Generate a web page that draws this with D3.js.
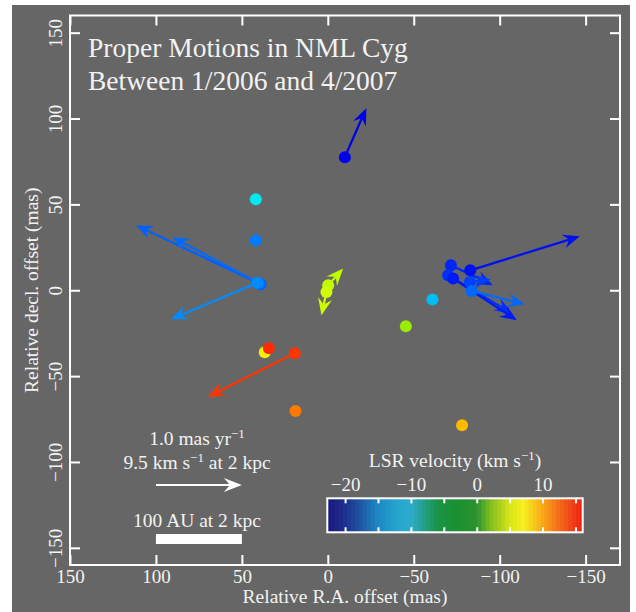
<!DOCTYPE html>
<html>
<head>
<meta charset="utf-8">
<script src="https://cdn.jsdelivr.net/npm/d3@7"></script>
<style>
  html, body { margin: 0; padding: 0; background: #ffffff; }
  svg { display: block; }
  text { font-family: "Liberation Serif", "DejaVu Serif", serif; fill: #f2f2f2; }
</style>
</head>
<body>
<svg id="chart" width="636" height="612"></svg>
<script>
// ---------------- data ----------------
// maser spots: RA offset (mas), Dec offset (mas), LSR velocity (km/s),
// proper motion in RA and Dec (mas/yr), null = no measured motion
const spotRA   = [-9.9, 41.9, 41.9, 39.1, 39.8, 41.0, -0.2, 0.8, 19.2, 36.7, 34.3, 18.8, -78.1, -45.4, -60.9, -82.9, -71.6, -70.0, -72.9, -82.6, -83.6];
const spotDec  = [77.5, 53.0, 29.1, 3.5, 3.9, 4.4, 2.9, -1.0, -36.7, -36.1, -33.8, -70.3, -78.6, -21.0, -5.4, 11.6, 14.6, 8.7, 6.8, 4.8, -0.4];
const spotVel  = [-22, -13, -17.8, -18.8, -18.4, -17.2, 0.3, 1.2, 14, 4, 14.5, 10.5, 7, -2, -15, -21.5, -20.8, -20.5, -21.2, -20, -18.5];
const spotPmRA = [-0.25, null, null, 1.45, 1.01, 1.006, -0.174, 0.058, 1.012, null, null, null, null, null, null, -1.274, -0.488, -0.74, -0.742, -0.244, -0.62];
const spotPmDec= [0.57, null, null, 0.688, 0.54, -0.426, 0.194, -0.272, -0.508, null, null, null, null, null, null, 0.396, -0.234, -0.442, -0.486, 0.032, -0.156];

// colour scale for spots (velocity -> colour)
const spotColV = [-22, -20, -17, -13, -8, -2, 1, 4, 8, 11, 15];
const spotColC = ["#0000ee", "#0040ff", "#0090ff", "#00e8f0", "#00ee80", "#99ee00", "#ccff00", "#f0f000", "#ffaa00", "#ff7000", "#ff2000"];

// colour bar palette
const barColV = [-22.7, -20.5, -18, -15, -12, -10, -8, -6, -3, 0, 2, 5, 7, 10, 13, 16.1];
const barColC = ["#18187e", "#1c2a88", "#1f50a0", "#1e88c4", "#26a6d0", "#2aaed0", "#22a08a", "#1a9448", "#1a9030", "#2a9430", "#80bc20", "#d8e418", "#f5f020", "#f8a818", "#f86018", "#f02010"];
const barTicks = [-20, -15, -10, -5, 0, 5, 10, 15];
const barLabels = [-20, -10, 0, 10];

const xTicks = [150, 100, 50, 0, -50, -100, -150];
const yTicks = [150, 100, 50, 0, -50, -100, -150];

const titleLines = ["Proper Motions in NML Cyg", "Between 1/2006 and 4/2007"];
const pmScale = 50; // mas of plot per 1 mas/yr

// ---------------- layout ----------------
const svg = d3.select("#chart");
const L = 70, R = 620, T = 15.5, B = 565;
const x = d3.scaleLinear().domain([150, -170]).range([L, R]);
const y = d3.scaleLinear().domain([-160, 160]).range([B, T]);
const col = d3.scaleLinear().domain(spotColV).range(spotColC).clamp(true);
const fmt = d3.format("");

svg.append("rect").attr("x", 12).attr("y", 5).attr("width", 618).attr("height", 607).attr("fill", "#666666");

// axes
const axStyle = g => {
  g.select(".domain").remove();
  g.selectAll(".tick line").attr("stroke", "#ffffff").attr("stroke-width", 2);
};
svg.append("g").attr("transform", `translate(0,${B})`)
  .call(d3.axisBottom(x).tickValues(xTicks).tickSize(-10).tickFormat(fmt).tickPadding(0))
  .call(axStyle)
  .call(g => g.selectAll(".tick text").attr("y", 18).attr("dy", 0)
      .style("font-size", "19px").attr("fill", "#f2f2f2"));
svg.append("g").attr("transform", `translate(0,${T})`)
  .call(d3.axisTop(x).tickValues(xTicks).tickSize(-10).tickFormat(""))
  .call(axStyle);
svg.append("g").attr("transform", `translate(${L},0)`)
  .call(d3.axisLeft(y).tickValues(yTicks).tickSize(-10).tickFormat(fmt))
  .call(axStyle)
  .call(g => g.selectAll(".tick text").attr("x", 0).attr("dy", 0)
      .attr("transform", "translate(-8,0) rotate(-90)")
      .attr("text-anchor", "middle")
      .style("font-size", "19px").attr("fill", "#f2f2f2"));
svg.append("g").attr("transform", `translate(${R},0)`)
  .call(d3.axisRight(y).tickValues(yTicks).tickSize(-10).tickFormat(""))
  .call(axStyle);
svg.append("rect").attr("x", L).attr("y", T).attr("width", R - L).attr("height", B - T)
  .attr("fill", "none").attr("stroke", "#ffffff").attr("stroke-width", 2);

// axis titles
svg.append("text").attr("x", (L + R) / 2).attr("y", 603).attr("text-anchor", "middle")
  .style("font-size", "19.5px").text("Relative R.A. offset (mas)");
svg.append("text").attr("transform", `translate(38,${(T + B) / 2}) rotate(-90)`).attr("text-anchor", "middle")
  .style("font-size", "19.5px").text("Relative decl. offset (mas)");

// title
svg.append("g").selectAll("text").data(titleLines).join("text")
  .attr("x", 88).attr("y", (d, i) => 57 + i * 32.5)
  .style("font-size", "27.5px").text(d => d);

// arrow helper
function arrow(g, x1, y1, x2, y2, color, hl, hw, hn, sw) {
  const dx = x2 - x1, dy = y2 - y1, len = Math.hypot(dx, dy);
  const ux = dx / len, uy = dy / len, px = -uy, py = ux;
  const nx = x2 - ux * hn, ny = y2 - uy * hn;
  g.append("line").attr("x1", x1).attr("y1", y1).attr("x2", nx).attr("y2", ny)
    .attr("stroke", color).attr("stroke-width", sw);
  const p = [[x2, y2], [x2 - ux * hl + px * hw, y2 - uy * hl + py * hw], [nx, ny], [x2 - ux * hl - px * hw, y2 - uy * hl - py * hw]];
  g.append("path").attr("d", "M" + p.map(q => q.join(",")).join("L") + "Z").attr("fill", color);
}

// spots and arrows
const spots = spotRA.map((ra, i) => ({ ra, dec: spotDec[i], v: spotVel[i], pr: spotPmRA[i], pd: spotPmDec[i] }));
const gArrows = svg.append("g");
spots.forEach(s => {
  if (s.pr !== null) {
    arrow(gArrows, x(s.ra), y(s.dec), x(s.ra + s.pr * pmScale), y(s.dec + s.pd * pmScale), col(s.v), 17, 7, 11, 2.2);
  }
});
svg.append("g").selectAll("circle").data(spots).join("circle")
  .attr("cx", d => x(d.ra)).attr("cy", d => y(d.dec)).attr("r", 6)
  .attr("fill", d => col(d.v));

// scale arrow and bar
const gScale = svg.append("g");
gScale.append("text").attr("x", 197).attr("y", 445).attr("text-anchor", "middle").style("font-size", "19.5px")
  .call(t => { t.append("tspan").text("1.0 mas yr"); t.append("tspan").attr("dy", -7).style("font-size", "13px").text("−1"); });
gScale.append("text").attr("x", 197).attr("y", 469).attr("text-anchor", "middle").style("font-size", "19.5px")
  .call(t => {
    t.append("tspan").text("9.5 km s");
    t.append("tspan").attr("dy", -7).style("font-size", "13px").text("−1");
    t.append("tspan").attr("dy", 7).text(" at 2 kpc");
  });
arrow(gScale, x(100), 485, x(100 - 1.0 * pmScale), 485, "#ffffff", 18, 7, 12, 2.2);
gScale.append("text").attr("x", 197).attr("y", 527).attr("text-anchor", "middle").style("font-size", "19.5px")
  .text("100 AU at 2 kpc");
gScale.append("rect").attr("x", x(100)).attr("y", 534).attr("width", x(50) - x(100)).attr("height", 10).attr("fill", "#ffffff");

// colour bar
const cb = d3.scaleLinear().domain([-22.7, 16.1]).range([327.3, 582.7]);
const cbCol = d3.scaleLinear().domain(barColV).range(barColC);
const cbT = 498.3, cbB = 532.3;
const steps = d3.range(-22.7, 16.1, 0.6);
svg.append("g").selectAll("rect").data(steps).join("rect")
  .attr("x", d => cb(d)).attr("y", cbT).attr("width", d => cb(Math.min(d + 0.6, 16.1)) - cb(d) + 0.5).attr("height", cbB - cbT)
  .attr("fill", d => cbCol(d + 0.3));
svg.append("g").attr("transform", `translate(0,${cbT})`)
  .call(d3.axisTop(cb).tickValues(barTicks).tickSize(-5).tickPadding(7)
    .tickFormat(d => barLabels.includes(d) ? fmt(d) : ""))
  .call(axStyle)
  .call(g => g.selectAll(".tick text").attr("dy", 0).style("font-size", "19px").attr("fill", "#f2f2f2"));
svg.append("g").attr("transform", `translate(0,${cbB})`)
  .call(d3.axisBottom(cb).tickValues(barTicks).tickSize(-5).tickFormat(""))
  .call(axStyle);
svg.append("rect").attr("x", 327.3).attr("y", cbT).attr("width", 582.7 - 327.3).attr("height", cbB - cbT)
  .attr("fill", "none").attr("stroke", "#ffffff").attr("stroke-width", 2);
svg.append("text").attr("x", 455).attr("y", 466.7).attr("text-anchor", "middle").style("font-size", "19.5px")
  .call(t => {
    t.append("tspan").text("LSR velocity (km s");
    t.append("tspan").attr("dy", -7).style("font-size", "13px").text("−1");
    t.append("tspan").attr("dy", 7).text(")");
  });
</script>
</body>
</html>
